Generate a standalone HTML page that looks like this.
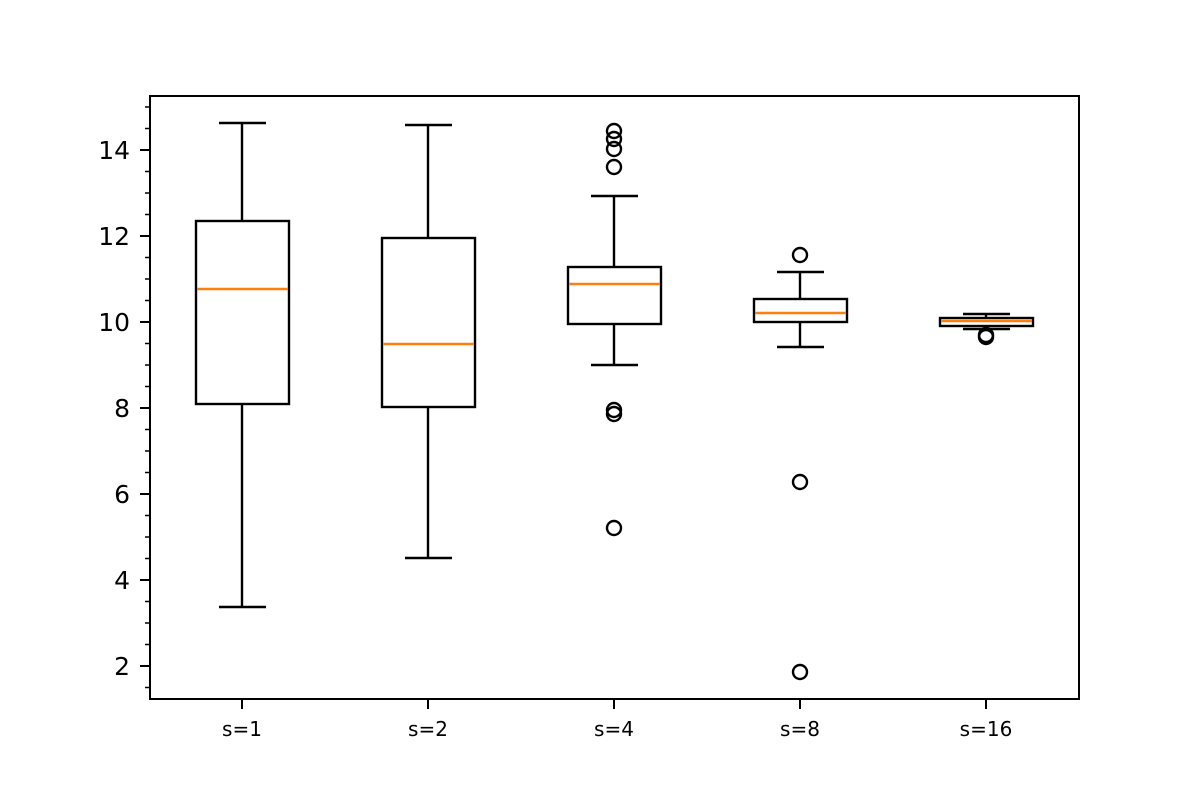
<!DOCTYPE html>
<html><head><meta charset="utf-8"><style>
html,body{margin:0;padding:0;background:#fff}
svg{display:block}
text{font-family:"DejaVu Sans","Liberation Sans",sans-serif;fill:#000}
</style></head><body>
<svg width="1200" height="800" viewBox="0 0 1200 800" xmlns="http://www.w3.org/2000/svg">
<rect width="1200" height="800" fill="#fff"/>
<g stroke="#000" stroke-width="2" fill="none">
<line x1="140" y1="150" x2="150" y2="150"/>
<line x1="140" y1="236" x2="150" y2="236"/>
<line x1="140" y1="322" x2="150" y2="322"/>
<line x1="140" y1="408" x2="150" y2="408"/>
<line x1="140" y1="494" x2="150" y2="494"/>
<line x1="140" y1="580" x2="150" y2="580"/>
<line x1="140" y1="666" x2="150" y2="666"/>
</g>
<g stroke="#000" stroke-width="1.5">
<line x1="145" y1="107" x2="150" y2="107"/><line x1="145" y1="128.5" x2="150" y2="128.5"/>
<line x1="145" y1="171.5" x2="150" y2="171.5"/><line x1="145" y1="193" x2="150" y2="193"/><line x1="145" y1="214.5" x2="150" y2="214.5"/>
<line x1="145" y1="257.5" x2="150" y2="257.5"/><line x1="145" y1="279" x2="150" y2="279"/><line x1="145" y1="300.5" x2="150" y2="300.5"/>
<line x1="145" y1="343.5" x2="150" y2="343.5"/><line x1="145" y1="365" x2="150" y2="365"/><line x1="145" y1="386.5" x2="150" y2="386.5"/>
<line x1="145" y1="429.5" x2="150" y2="429.5"/><line x1="145" y1="451" x2="150" y2="451"/><line x1="145" y1="472.5" x2="150" y2="472.5"/>
<line x1="145" y1="515.5" x2="150" y2="515.5"/><line x1="145" y1="537" x2="150" y2="537"/><line x1="145" y1="558.5" x2="150" y2="558.5"/>
<line x1="145" y1="601.5" x2="150" y2="601.5"/><line x1="145" y1="623" x2="150" y2="623"/><line x1="145" y1="644.5" x2="150" y2="644.5"/>
<line x1="145" y1="687.5" x2="150" y2="687.5"/>
</g>
<g font-size="25" text-anchor="end">
<text x="130" y="159">14</text><text x="130" y="245">12</text><text x="130" y="331">10</text>
<text x="130" y="417">8</text><text x="130" y="503">6</text><text x="130" y="589">4</text><text x="130" y="675">2</text>
</g>
<g stroke="#000" stroke-width="2">
<line x1="242" y1="699" x2="242" y2="709"/><line x1="428" y1="699" x2="428" y2="709"/>
<line x1="614" y1="699" x2="614" y2="709"/><line x1="800" y1="699" x2="800" y2="709"/><line x1="986" y1="699" x2="986" y2="709"/>
</g>
<g font-size="20" text-anchor="middle">
<text x="242" y="736">s=1</text><text x="428" y="736">s=2</text><text x="614" y="736">s=4</text>
<text x="800" y="736">s=8</text><text x="986" y="736">s=16</text>
</g>
<g stroke="#000" stroke-width="2.4" fill="none">
<rect x="196" y="221" width="93" height="183"/>
<line x1="242" y1="123" x2="242" y2="221"/><line x1="219" y1="123" x2="266" y2="123"/>
<line x1="242" y1="404" x2="242" y2="607"/><line x1="219" y1="607" x2="266" y2="607"/>
<rect x="382" y="238" width="93" height="169"/>
<line x1="428" y1="125" x2="428" y2="238"/><line x1="405" y1="125" x2="452" y2="125"/>
<line x1="428" y1="407" x2="428" y2="558"/><line x1="405" y1="558" x2="452" y2="558"/>
<rect x="568" y="267" width="93" height="57"/>
<line x1="614" y1="196" x2="614" y2="267"/><line x1="591" y1="196" x2="638" y2="196"/>
<line x1="614" y1="324" x2="614" y2="365"/><line x1="591" y1="365" x2="638" y2="365"/>
<circle cx="614" cy="131" r="7"/><circle cx="614" cy="139" r="7"/><circle cx="614" cy="149" r="7"/><circle cx="614" cy="167" r="7"/>
<circle cx="614" cy="410" r="7"/><circle cx="614" cy="414" r="7"/><circle cx="614" cy="528" r="7"/>
<rect x="754" y="299" width="93" height="23"/>
<line x1="800" y1="272" x2="800" y2="299"/><line x1="777" y1="272" x2="824" y2="272"/>
<line x1="800" y1="322" x2="800" y2="347"/><line x1="777" y1="347" x2="824" y2="347"/>
<circle cx="800" cy="255" r="7"/><circle cx="800" cy="482" r="7"/><circle cx="800" cy="672" r="7"/>
<rect x="940" y="318" width="93" height="8"/>
<line x1="986" y1="314" x2="986" y2="318"/><line x1="963" y1="314" x2="1010" y2="314"/>
<line x1="986" y1="326" x2="986" y2="329"/><line x1="963" y1="329" x2="1010" y2="329"/>
<circle cx="986" cy="335" r="7"/><circle cx="986" cy="337" r="7"/>
</g>
<g stroke="#ff7f0e" stroke-width="2.4">
<line x1="197" y1="289" x2="288" y2="289"/>
<line x1="383" y1="344" x2="474" y2="344"/>
<line x1="569" y1="284" x2="660" y2="284"/>
<line x1="755" y1="313" x2="846" y2="313"/>
<line x1="941" y1="321" x2="1032" y2="321"/>
</g>
<rect x="150" y="96" width="929" height="603" fill="none" stroke="#000" stroke-width="2"/>
</svg>
</body></html>
